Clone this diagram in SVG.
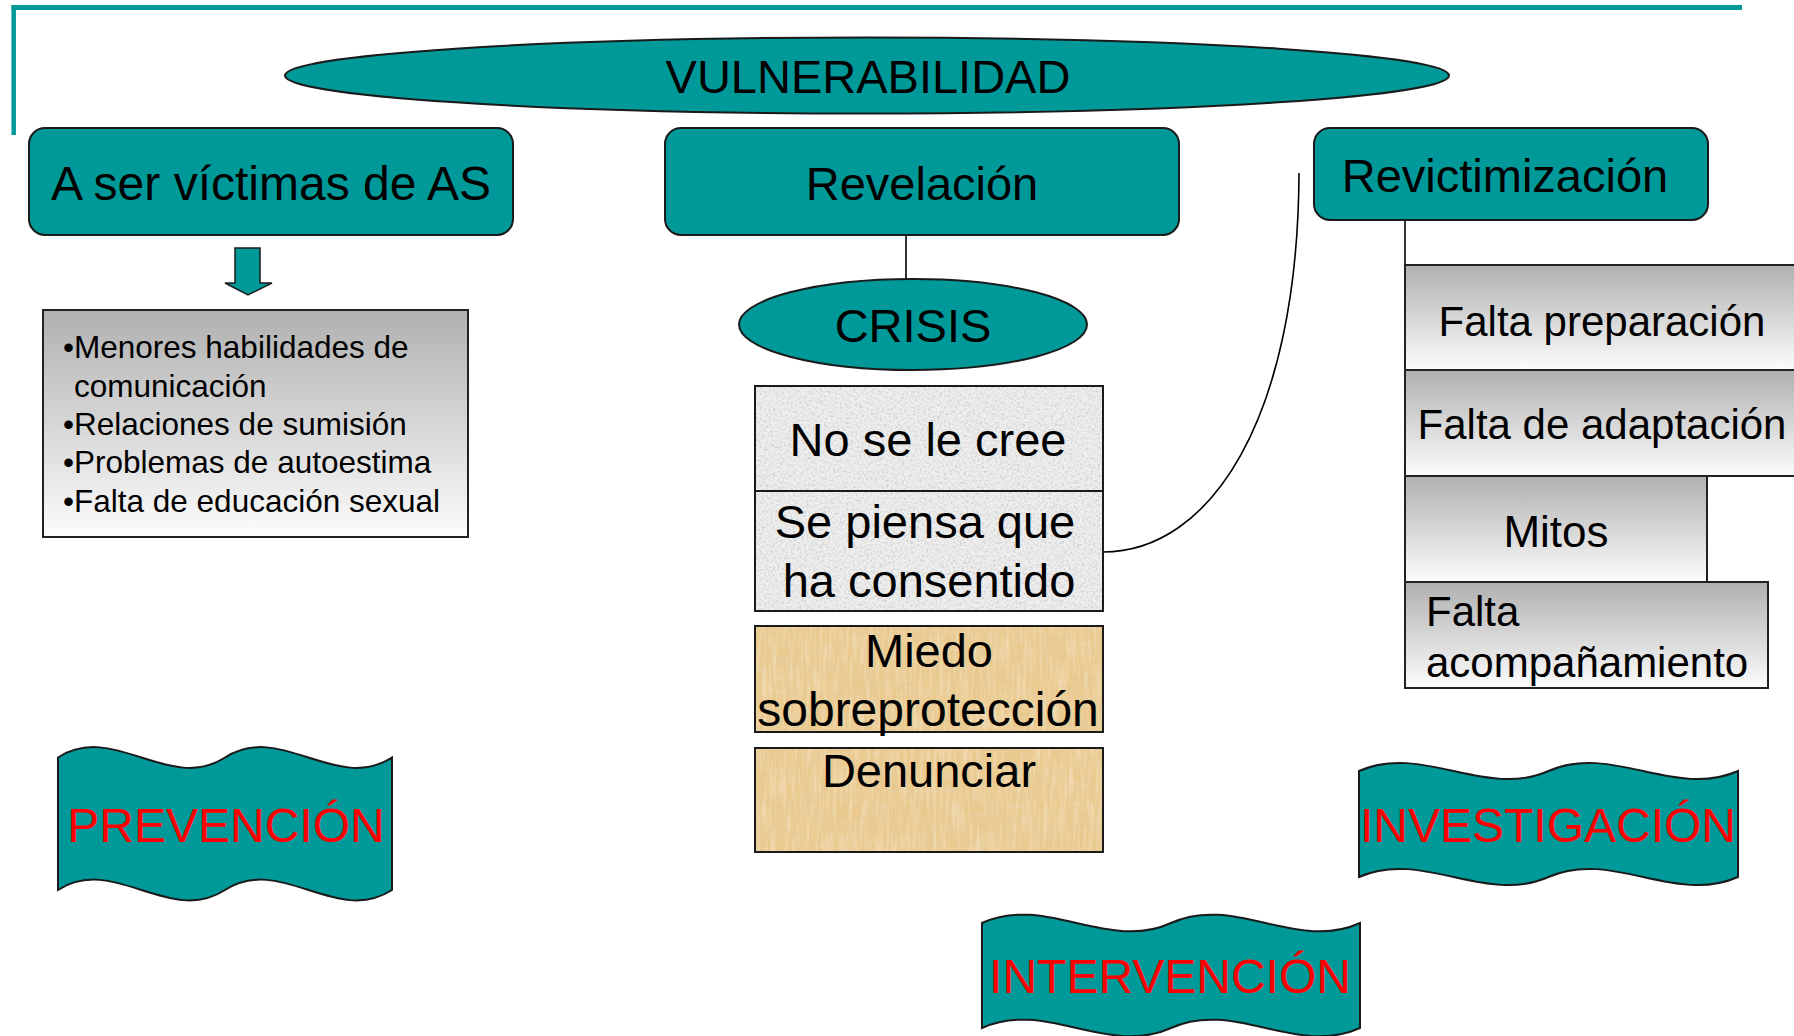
<svg xmlns="http://www.w3.org/2000/svg" width="1794" height="1036" viewBox="0 0 1794 1036">
<style>
text{font-family:"Liberation Sans",Arial,Helvetica,sans-serif;fill:#000}
.c{text-anchor:middle}
.big{font-size:47px}
.mid{font-size:42px}
.small{font-size:31.5px}
.red{fill:#ff0000;font-size:48px}
.teal{fill:#009999;stroke:#1a1a1a;stroke-width:2}
.frame{fill:none;stroke:#1a1a1a;stroke-width:2}
.gray{fill:url(#gg);stroke:#222;stroke-width:2}
.conn{fill:none;stroke:#000;stroke-width:1.6}
</style>
<defs>
<linearGradient id="gg" x1="0" y1="0" x2="0" y2="1">
<stop offset="0" stop-color="#b0b0b0"/>
<stop offset="1" stop-color="#fcfcfc"/>
</linearGradient>
<filter id="speckle" x="0" y="0" width="1" height="1">
<feTurbulence type="fractalNoise" baseFrequency="0.45" numOctaves="3" seed="7" result="t"/>
<feColorMatrix in="t" type="matrix" values="0 0 0 0 0.62  0 0 0 0 0.62  0 0 0 0 0.62  2.6 0 0 0 -1.15" result="spots"/>
<feFlood flood-color="#eeeeee" result="bg"/>
<feComposite in="spots" in2="bg" operator="over" result="m"/>
<feComposite in="m" in2="SourceGraphic" operator="in"/>
</filter>
<filter id="papyrus" x="0" y="0" width="1" height="1">
<feFlood flood-color="#e9c98e" result="bg"/>
<feTurbulence type="fractalNoise" baseFrequency="0.03 0.3" numOctaves="2" seed="3" result="t1"/>
<feColorMatrix in="t1" type="matrix" values="0 0 0 0 0.80  0 0 0 0 0.66  0 0 0 0 0.42  1.0 0 0 0 -0.42" result="s1"/>
<feTurbulence type="fractalNoise" baseFrequency="0.3 0.03" numOctaves="2" seed="11" result="t2"/>
<feColorMatrix in="t2" type="matrix" values="0 0 0 0 0.96  0 0 0 0 0.86  0 0 0 0 0.64  1.0 0 0 0 -0.42" result="s2"/>
<feComposite in="s1" in2="bg" operator="over" result="m1"/>
<feComposite in="s2" in2="m1" operator="over" result="m2"/>
<feComposite in="m2" in2="SourceGraphic" operator="in"/>
</filter>
</defs>
<rect width="1794" height="1036" fill="#ffffff"/>

<g id="border">
<line x1="11.5" y1="7.5" x2="1742" y2="7.5" stroke="#009999" stroke-width="5"/>
<line x1="13.7" y1="5" x2="13.7" y2="135" stroke="#009999" stroke-width="4.5"/>
</g>

<g id="connectors">
<line class="conn" x1="906" y1="235" x2="906" y2="279"/>
<line class="conn" x1="1405" y1="220" x2="1405" y2="265"/>
<path class="conn" d="M1299,173 C1298,420 1210,552 1103,552"/>
<path id="block-arrow" d="M235,248 H260 V283 H272 L248,295 L225,283 H235 Z" fill="#009999" stroke="#1a1a1a" stroke-width="1.5"/>
</g>

<g id="vulnerabilidad">
<ellipse class="teal" cx="867" cy="75.5" rx="582" ry="38"/>
<text class="big c" x="868" y="93">VULNERABILIDAD</text>
</g>

<g id="victimas">
<rect class="teal" x="29" y="128" width="484" height="107" rx="16"/>
<text class="c" style="font-size:48px" x="271" y="200">A ser víctimas de AS</text>
</g>

<g id="revelacion">
<rect class="teal" x="665" y="128" width="514" height="107" rx="16"/>
<text class="big c" x="922" y="200">Revelación</text>
</g>

<g id="revictimizacion">
<rect class="teal" x="1314" y="128" width="394" height="92" rx="16"/>
<text class="big c" x="1505" y="192">Revictimización</text>
</g>

<g id="factores">
<rect class="gray" x="43" y="310" width="425" height="227"/>
<text class="small" x="63" y="358">•Menores habilidades de</text>
<text class="small" x="74" y="397">comunicación</text>
<text class="small" x="63" y="435">•Relaciones de sumisión</text>
<text class="small" x="63" y="473">•Problemas de autoestima</text>
<text class="small" x="63" y="512">•Falta de educación sexual</text>
</g>

<g id="crisis">
<ellipse class="teal" cx="913" cy="324.5" rx="174" ry="45.5"/>
<text class="big c" x="913" y="342">CRISIS</text>
</g>

<g id="no-se-le-cree">
<rect x="755" y="386" width="348" height="105" fill="#000" filter="url(#speckle)"/>
<rect class="frame" x="755" y="386" width="348" height="105"/>
<text class="big c" x="928" y="456">No se le cree</text>
</g>

<g id="consentido">
<rect x="755" y="491" width="348" height="120" fill="#000" filter="url(#speckle)"/>
<rect class="frame" x="755" y="491" width="348" height="120"/>
<text class="big c" x="925" y="538">Se piensa que</text>
<text class="big c" x="929" y="597">ha consentido</text>
</g>

<g id="miedo">
<rect x="755" y="626" width="348" height="106" fill="#000" filter="url(#papyrus)"/>
<rect class="frame" x="755" y="626" width="348" height="106"/>
<text class="big c" x="929" y="667">Miedo</text>
<text class="c" style="font-size:48px" x="928" y="726">sobreprotección</text>
</g>

<g id="denunciar">
<rect x="755" y="748" width="348" height="104" fill="#000" filter="url(#papyrus)"/>
<rect class="frame" x="755" y="748" width="348" height="104"/>
<text class="big c" x="929" y="787">Denunciar</text>
</g>

<g id="falta-preparacion">
<rect class="gray" x="1405" y="265" width="392" height="105"/>
<text class="mid c" x="1602" y="336">Falta preparación</text>
</g>

<g id="falta-adaptacion">
<rect class="gray" x="1405" y="370" width="392" height="106"/>
<text class="mid c" x="1602" y="439">Falta de adaptación</text>
</g>

<g id="mitos">
<rect class="gray" x="1405" y="476" width="302" height="106"/>
<text class="c" style="font-size:44px" x="1556" y="547">Mitos</text>
</g>

<g id="falta-acompanamiento">
<rect class="gray" x="1405" y="582" width="363" height="106"/>
<text class="mid" x="1426" y="626">Falta</text>
<text class="mid" x="1426" y="677">acompañamiento</text>
</g>

<g id="prevencion">
<path class="teal" d="M58,757.5 C113.7,721.5 169.3,793.5 225,757.5 C280.7,721.5 336.3,793.5 392,757.5 L392,890 C336.3,926 280.7,854 225,890 C169.3,926 113.7,854 58,890 Z"/>
<text class="red c" x="226" y="842">PREVENCIÓN</text>
</g>

<g id="investigacion">
<path class="teal" d="M1359,771 C1422.2,743 1485.3,799 1548.5,771 C1611.7,743 1674.8,799 1738,771 L1738,877 C1674.8,905 1611.7,849 1548.5,877 C1485.3,905 1422.2,849 1359,877 Z"/>
<text class="red c" x="1548" y="842">INVESTIGACIÓN</text>
</g>

<g id="intervencion">
<path class="teal" d="M982,923 C1045,894 1108,952 1171,923 C1234,894 1297,952 1360,923 L1360,1028 C1297,1057 1234,999 1171,1028 C1108,1057 1045,999 982,1028 Z"/>
<text class="red c" x="1170" y="993">INTERVENCIÓN</text>
</g>
</svg>
